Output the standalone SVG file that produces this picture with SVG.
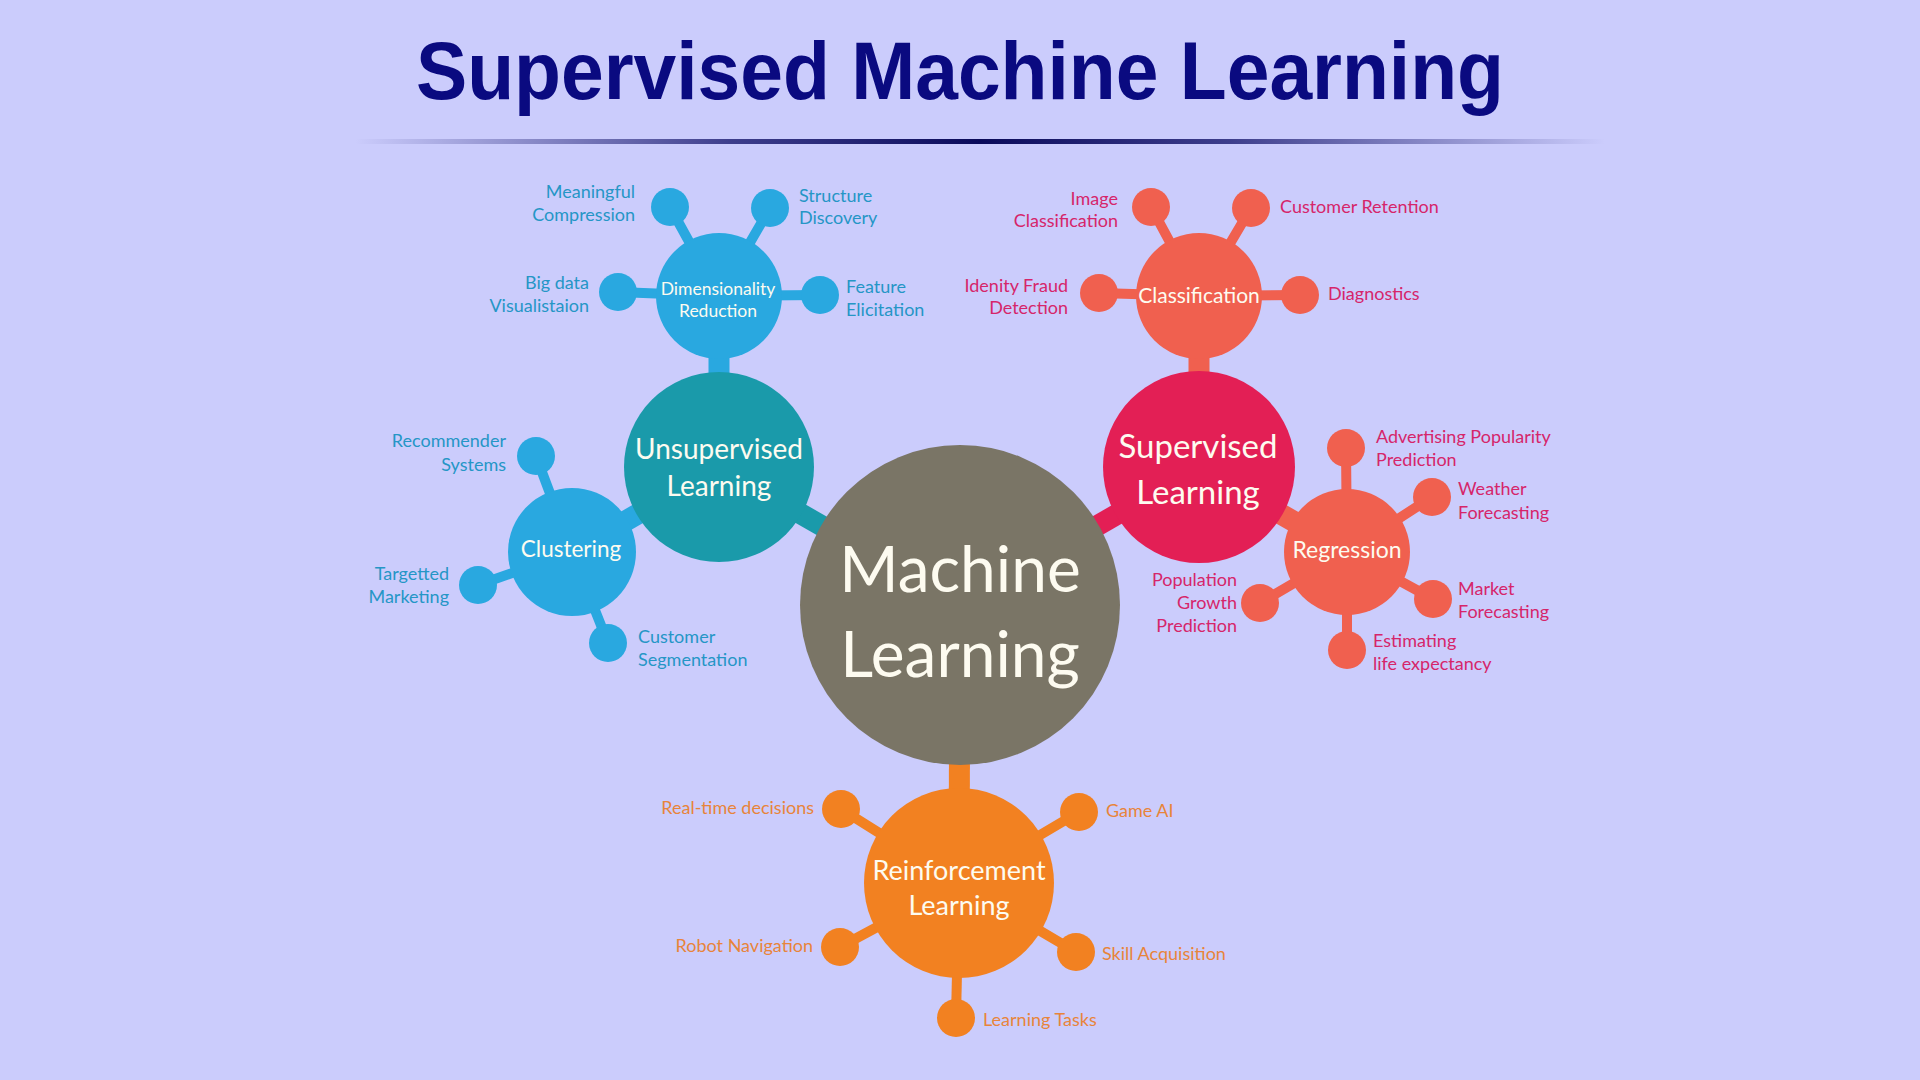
<svg xmlns="http://www.w3.org/2000/svg" width="1920" height="1080" viewBox="0 0 1920 1080">
<defs>
<linearGradient id="ul" x1="0" y1="0" x2="1" y2="0">
<stop offset="0" stop-color="#1a1a70" stop-opacity="0"/>
<stop offset="0.3" stop-color="#1a1a70" stop-opacity="0.8"/>
<stop offset="0.5" stop-color="#0a0a5a" stop-opacity="1"/>
<stop offset="0.7" stop-color="#1a1a70" stop-opacity="0.8"/>
<stop offset="1" stop-color="#1a1a70" stop-opacity="0"/>
</linearGradient>
</defs>
<style>
text{font-family:"Lato","Open Sans",sans-serif}
.title{font-family:"Liberation Sans",Arial,sans-serif;font-weight:bold;font-size:81px;fill:#0a0a80}
.w{fill:#fdfbf0;text-anchor:middle}
.lb{font-size:18px}
.bl{fill:#2596c6}
.rd{fill:#d6256a}
.or{fill:#e8843a}
.end{text-anchor:end}
.thin{stroke-width:10;stroke-linecap:round}
.thick{stroke-width:21}
</style>
<rect width="1920" height="1080" fill="#cbccfc"/>
<text class="title" x="960" y="99" text-anchor="middle" textLength="1088" lengthAdjust="spacingAndGlyphs">Supervised Machine Learning</text>
<rect x="355" y="139" width="1250" height="5" fill="url(#ul)"/>

<g id="connectors">
<line class="thick" x1="719" y1="467" x2="960" y2="605" stroke="#1a9aaa"/>
<line class="thick" x1="1199" y1="467" x2="960" y2="605" stroke="#e31f55"/>
<line class="thick" x1="959" y1="883" x2="960" y2="605" stroke="#f28121"/>
<line class="thick" x1="719" y1="296" x2="719" y2="467" stroke="#29a8e0"/>
<line class="thick" x1="572" y1="552" x2="719" y2="467" stroke="#29a8e0"/>
<line class="thick" x1="1199" y1="296" x2="1199" y2="467" stroke="#f0604f"/>
<line class="thick" x1="1347" y1="552" x2="1199" y2="467" stroke="#f0604f"/>
<g stroke="#29a8e0" class="thin">
<line x1="670" y1="207" x2="719" y2="296"/>
<line x1="770" y1="208" x2="719" y2="296"/>
<line x1="618" y1="292" x2="719" y2="296"/>
<line x1="820" y1="295" x2="719" y2="296"/>
<line x1="536" y1="456" x2="572" y2="552"/>
<line x1="478" y1="585" x2="572" y2="552"/>
<line x1="608" y1="643" x2="572" y2="552"/>
</g>
<g stroke="#f0604f" class="thin">
<line x1="1151" y1="207" x2="1199" y2="296"/>
<line x1="1251" y1="208" x2="1199" y2="296"/>
<line x1="1099" y1="293" x2="1199" y2="296"/>
<line x1="1300" y1="295" x2="1199" y2="296"/>
<line x1="1346" y1="448" x2="1347" y2="552"/>
<line x1="1432" y1="497" x2="1347" y2="552"/>
<line x1="1433" y1="599" x2="1347" y2="552"/>
<line x1="1347" y1="650" x2="1347" y2="552"/>
<line x1="1260" y1="603" x2="1347" y2="552"/>
</g>
<g stroke="#f28121" class="thin">
<line x1="841" y1="809" x2="959" y2="883"/>
<line x1="1079" y1="812" x2="959" y2="883"/>
<line x1="840" y1="947" x2="959" y2="883"/>
<line x1="1076" y1="952" x2="959" y2="883"/>
<line x1="956" y1="1018" x2="959" y2="883"/>
</g>
</g>

<g id="machine-learning">
<circle cx="960" cy="605" r="160" fill="#7a7566"/>
<text class="w" x="960" y="592" font-size="64">Machine</text>
<text class="w" x="960" y="677" font-size="64">Learning</text>
</g>

<g id="unsupervised">
<circle cx="719" cy="467" r="95" fill="#1a9aaa"/>
<text class="w" x="719" y="459" font-size="28">Unsupervised</text>
<text class="w" x="719" y="496" font-size="28">Learning</text>
</g>

<g id="supervised">
<circle cx="1199" cy="467" r="96" fill="#e31f55"/>
<text class="w" x="1198" y="458" font-size="33">Supervised</text>
<text class="w" x="1198" y="504" font-size="33">Learning</text>
</g>

<g id="reinforcement">
<circle cx="959" cy="883" r="95" fill="#f28121"/>
<text class="w" x="959" y="880" font-size="27">Reinforcement</text>
<text class="w" x="959" y="915" font-size="27">Learning</text>
</g>

<g id="dimensionality">
<circle cx="719" cy="296" r="63" fill="#29a8e0"/>
<text class="w" x="718" y="295" font-size="17.5">Dimensionality</text>
<text class="w" x="718" y="317" font-size="17.5">Reduction</text>
</g>

<g id="clustering">
<circle cx="572" cy="552" r="64" fill="#29a8e0"/>
<text class="w" x="571" y="557" font-size="22.5">Clustering</text>
</g>

<g id="classification">
<circle cx="1199" cy="296" r="63" fill="#f0604f"/>
<text class="w" x="1199" y="303" font-size="21">Classification</text>
</g>

<g id="regression">
<circle cx="1347" cy="552" r="63" fill="#f0604f"/>
<text class="w" x="1347" y="558" font-size="23">Regression</text>
</g>

<g id="meaningful-compression">
<circle cx="670" cy="207" r="19" fill="#29a8e0"/>
<text class="lb bl end" x="635" y="198">Meaningful</text>
<text class="lb bl end" x="635" y="221">Compression</text>
</g>
<g id="structure-discovery">
<circle cx="770" cy="208" r="19" fill="#29a8e0"/>
<text class="lb bl" x="799" y="202">Structure</text>
<text class="lb bl" x="799" y="224">Discovery</text>
</g>
<g id="big-data">
<circle cx="618" cy="292" r="19" fill="#29a8e0"/>
<text class="lb bl end" x="589" y="289">Big data</text>
<text class="lb bl end" x="589" y="312">Visualistaion</text>
</g>
<g id="feature-elicitation">
<circle cx="820" cy="295" r="19" fill="#29a8e0"/>
<text class="lb bl" x="846" y="293">Feature</text>
<text class="lb bl" x="846" y="316">Elicitation</text>
</g>
<g id="recommender">
<circle cx="536" cy="456" r="19" fill="#29a8e0"/>
<text class="lb bl end" x="506" y="447">Recommender</text>
<text class="lb bl end" x="506" y="471">Systems</text>
</g>
<g id="targetted-marketing">
<circle cx="478" cy="585" r="19" fill="#29a8e0"/>
<text class="lb bl end" x="449" y="580">Targetted</text>
<text class="lb bl end" x="449" y="603">Marketing</text>
</g>
<g id="customer-segmentation">
<circle cx="608" cy="643" r="19" fill="#29a8e0"/>
<text class="lb bl" x="638" y="643">Customer</text>
<text class="lb bl" x="638" y="666">Segmentation</text>
</g>

<g id="image-classification">
<circle cx="1151" cy="207" r="19" fill="#f0604f"/>
<text class="lb rd end" x="1118" y="205">Image</text>
<text class="lb rd end" x="1118" y="227">Classification</text>
</g>
<g id="customer-retention">
<circle cx="1251" cy="208" r="19" fill="#f0604f"/>
<text class="lb rd" x="1280" y="213">Customer Retention</text>
</g>
<g id="identity-fraud">
<circle cx="1099" cy="293" r="19" fill="#f0604f"/>
<text class="lb rd end" x="1068" y="292">Idenity Fraud</text>
<text class="lb rd end" x="1068" y="314">Detection</text>
</g>
<g id="diagnostics">
<circle cx="1300" cy="295" r="19" fill="#f0604f"/>
<text class="lb rd" x="1328" y="300">Diagnostics</text>
</g>
<g id="advertising">
<circle cx="1346" cy="448" r="19" fill="#f0604f"/>
<text class="lb rd" x="1376" y="443">Advertising Popularity</text>
<text class="lb rd" x="1376" y="466">Prediction</text>
</g>
<g id="weather">
<circle cx="1432" cy="497" r="19" fill="#f0604f"/>
<text class="lb rd" x="1458" y="495">Weather</text>
<text class="lb rd" x="1458" y="519">Forecasting</text>
</g>
<g id="market">
<circle cx="1433" cy="599" r="19" fill="#f0604f"/>
<text class="lb rd" x="1458" y="595">Market</text>
<text class="lb rd" x="1458" y="618">Forecasting</text>
</g>
<g id="life-expectancy">
<circle cx="1347" cy="650" r="19" fill="#f0604f"/>
<text class="lb rd" x="1373" y="647">Estimating</text>
<text class="lb rd" x="1373" y="670">life expectancy</text>
</g>
<g id="population">
<circle cx="1260" cy="603" r="19" fill="#f0604f"/>
<text class="lb rd end" x="1237" y="586">Population</text>
<text class="lb rd end" x="1237" y="609">Growth</text>
<text class="lb rd end" x="1237" y="632">Prediction</text>
</g>

<g id="real-time">
<circle cx="841" cy="809" r="19" fill="#f28121"/>
<text class="lb or end" x="814" y="814">Real-time decisions</text>
</g>
<g id="game-ai">
<circle cx="1079" cy="812" r="19" fill="#f28121"/>
<text class="lb or" x="1106" y="817">Game AI</text>
</g>
<g id="robot-navigation">
<circle cx="840" cy="947" r="19" fill="#f28121"/>
<text class="lb or end" x="813" y="952">Robot Navigation</text>
</g>
<g id="skill-acquisition">
<circle cx="1076" cy="952" r="19" fill="#f28121"/>
<text class="lb or" x="1102" y="960">Skill Acquisition</text>
</g>
<g id="learning-tasks">
<circle cx="956" cy="1018" r="19" fill="#f28121"/>
<text class="lb or" x="983" y="1026">Learning Tasks</text>
</g>
</svg>
